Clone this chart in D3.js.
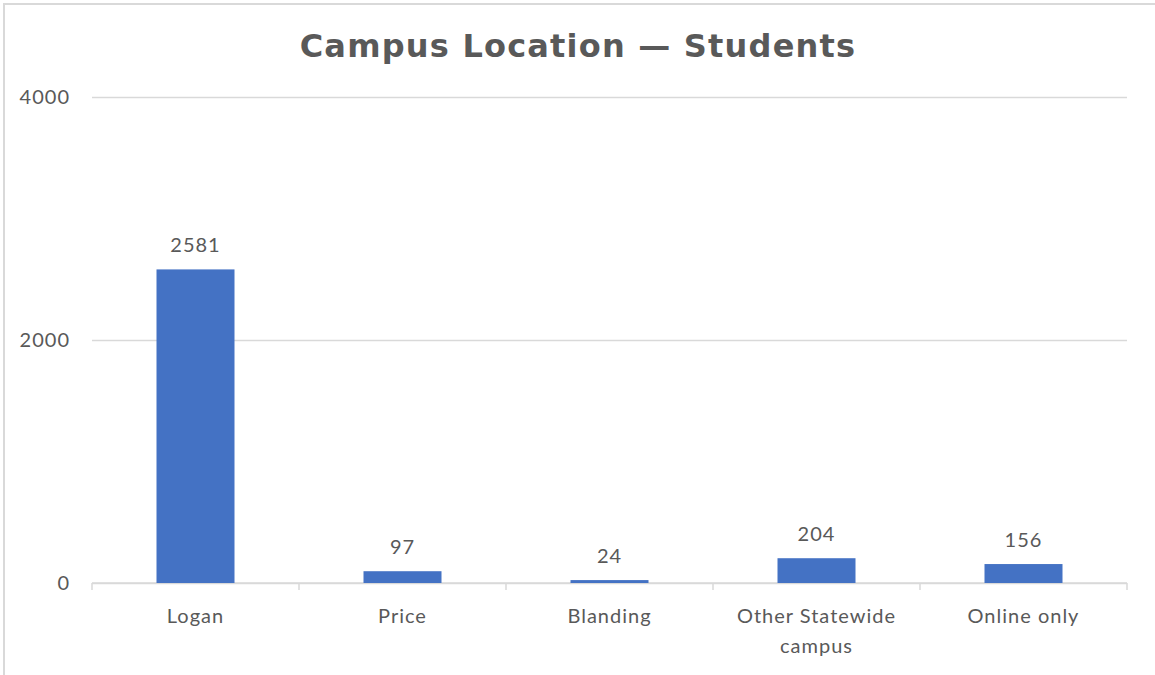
<!DOCTYPE html>
<html>
<head>
<meta charset="utf-8">
<script src="https://cdn.jsdelivr.net/npm/d3@7"></script>
<style>
  body { margin: 0; background: #fff; }
  text { font-family: Lato, "Open Sans", sans-serif; fill: #595959; }
</style>
</head>
<body>
<div id="chart"></div>
<script>
const chartTitle = "Campus Location — Students";
const categories = ["Logan", "Price", "Blanding", "Other Statewide campus", "Online only"];
const students = [2581, 97, 24, 204, 156];
const yTicks = [0, 2000, 4000];

const W = 1155, H = 675;
const margin = {top: 97, right: 28, bottom: 92, left: 92},
      width = W - margin.left - margin.right,
      height = H - margin.top - margin.bottom;

const data = categories.map((c, i) => ({cat: c, value: students[i]}));

const svg = d3.select("#chart")
              .append("svg")
              .attr("width", W)
              .attr("height", H);

// outer frame
svg.append("rect")
   .attr("x", 4).attr("y", 4)
   .attr("width", W + 10).attr("height", H + 10)
   .attr("fill", "none")
   .attr("stroke", "#d9d9d9")
   .attr("stroke-width", 2);

svg.append("text")
   .attr("x", 578)
   .attr("y", 57)
   .attr("text-anchor", "middle")
   .style("font-family", "'DejaVu Sans', sans-serif")
   .style("font-weight", "bold")
   .style("font-size", "32px")
   .style("letter-spacing", "1.2px")
   .text(chartTitle);

const g = svg.append("g")
             .attr("transform", `translate(${margin.left},${margin.top})`);

const x = d3.scaleBand()
            .domain(categories)
            .range([0, width])
            .padding(0);

const y = d3.scaleLinear()
            .domain([0, 4000])
            .range([height, 0]);

const labelStyle = sel => sel.style("font-size", "20px").style("letter-spacing", "1px");

// gridlines + y labels
g.append("g")
 .call(d3.axisLeft(y).tickValues(yTicks).tickFormat(d3.format("d")).tickSize(-width).tickPadding(22))
 .call(a => a.select(".domain").remove())
 .call(a => a.selectAll("line").attr("stroke", "#d9d9d9").attr("stroke-width", 1.5))
 .call(a => a.selectAll("text").call(labelStyle).attr("fill", "#595959"));

// x axis with ticks at category boundaries
const xAxis = g.append("g")
               .attr("transform", `translate(0,${height})`);

xAxis.append("line")
     .attr("x1", 0).attr("x2", width)
     .attr("stroke", "#d9d9d9").attr("stroke-width", 1.5);

xAxis.selectAll(".tk")
     .data(categories.concat([null]))
     .enter()
     .append("line")
     .attr("x1", (d, i) => i * x.step())
     .attr("x2", (d, i) => i * x.step())
     .attr("y1", 0).attr("y2", 7)
     .attr("stroke", "#d9d9d9").attr("stroke-width", 1.5);

const catLabels = xAxis.selectAll(".cat")
     .data(categories)
     .enter()
     .append("text")
     .attr("class", "cat")
     .attr("x", d => x(d) + x.bandwidth() / 2)
     .attr("y", 40)
     .attr("text-anchor", "middle")
     .call(labelStyle)
     .text(d => d);

catLabels.each(function(d) {
  const t = d3.select(this);
  if (this.getComputedTextLength() < 185) return;
  const words = d.split(" ");
  const first = words.slice(0, 2).join(" "), rest = words.slice(2).join(" ");
  const cx = t.attr("x");
  t.text(null);
  t.append("tspan").attr("x", cx).attr("dy", 0).text(first);
  t.append("tspan").attr("x", cx).attr("dy", 30).text(rest);
});

const barW = 78;

g.selectAll(".bar")
 .data(data)
 .enter()
 .append("rect")
 .attr("class", "bar")
 .attr("x", d => x(d.cat) + x.bandwidth() / 2 - barW / 2)
 .attr("y", d => y(d.value))
 .attr("width", barW)
 .attr("height", d => height - y(d.value))
 .attr("fill", "#4472c4");

g.selectAll(".label")
 .data(data)
 .enter()
 .append("text")
 .attr("class", "label")
 .attr("x", d => x(d.cat) + x.bandwidth() / 2)
 .attr("y", d => y(d.value) - 17)
 .attr("text-anchor", "middle")
 .call(labelStyle)
 .text(d => d.value);
</script>
</body>
</html>
